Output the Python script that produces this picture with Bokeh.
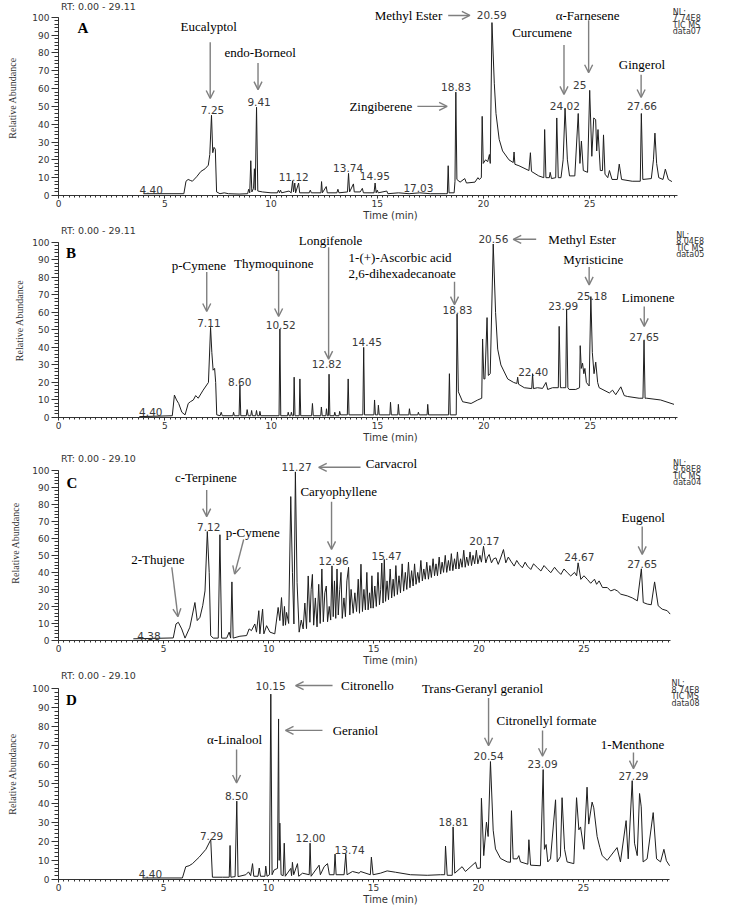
from bokeh.plotting import figure
from bokeh.models import ColumnDataSource, FixedTicker, Arrow, OpenHead
from bokeh.layouts import column
from bokeh.embed import file_html
from bokeh.resources import INLINE
from bokeh.core.properties import value

# ---------------- Panel A (data07) ----------------
A_T = [4.0, 5.9, 6.0, 6.1, 6.2, 6.3, 6.5, 6.7, 6.9, 7.05, 7.12, 7.2, 7.26, 7.32, 7.38, 7.44, 7.6, 7.8, 8.0, 8.5,
       8.9, 8.95, 9.0, 9.05, 9.1, 9.18, 9.22, 9.26, 9.32, 9.38, 9.6, 10.0, 10.3, 10.35, 10.4, 10.45, 10.5, 10.85,
       10.95, 11.02, 11.06, 11.12, 11.16, 11.3, 11.35, 11.8, 11.85, 11.9, 12.35, 12.38, 12.42, 12.6, 12.65, 13.1,
       13.15, 13.2, 13.6, 13.65, 13.7, 13.88, 13.92, 14.2, 14.3, 14.35, 14.85, 14.9, 14.95, 15.0, 15.05, 15.45,
       15.5, 16.0, 16.5, 17.0, 17.5, 18.2, 18.3, 18.34, 18.38, 18.62, 18.66, 18.7, 18.75, 18.9, 19.12, 19.2,
       19.6, 19.74, 19.8, 19.9, 19.94, 19.99, 20.1, 20.2, 20.28, 20.32, 20.40, 20.51, 20.59, 20.74, 20.9, 21.2,
       21.4, 21.44, 21.48, 21.67, 22.14, 22.21, 22.26, 22.6, 22.84, 22.88, 22.94, 23.1, 23.14, 23.2, 23.4, 23.45,
       23.52, 23.65, 23.75, 23.84, 23.95, 24.05, 24.3, 24.46, 24.54, 24.61, 24.7, 24.9, 25.0, 25.1, 25.19, 25.28,
       25.33, 25.39, 25.5, 25.6, 25.65, 25.72, 25.85, 25.93, 26.05, 26.3, 26.39, 26.5, 27.0, 27.38, 27.43, 27.5,
       27.9, 28.0, 28.07, 28.15, 28.25, 28.45, 28.56, 28.7, 28.87]
A_AB = [1, 1, 8, 9, 8.5, 8, 10.5, 13.5, 15, 17, 23, 45, 24, 27, 26, 2, 1, 1.5, 1, 0.8,
        1, 3.5, 1.5, 19.5, 2, 4, 15, 3, 49.5, 2.5, 2, 1.5, 1.5, 3, 1.5, 3, 1.5, 2.5,
        1.5, 8.3, 2, 7, 1.5, 7, 1.5, 1.5, 3, 1.5, 1.5, 7.8, 1.5, 5, 1.5, 1.5,
        3.5, 1.5, 2, 12.4, 2, 6.5, 2, 2, 4, 1.5, 1.5, 7, 1.5, 3, 1.5, 2.5,
        1, 1.5, 1, 1.5, 1, 1, 1, 16.7, 1.5, 1.5, 8, 58, 9, 7.5, 9.5, 7,
        7.5, 10, 9, 10, 44.4, 18, 20, 19, 23, 18, 97, 63, 46, 31.5, 25, 20,
        18.5, 24.4, 17.5, 16.7, 14, 24, 13.5, 11, 10, 37, 10, 10, 13, 9.5, 10, 43.5,
        10, 10, 20, 49, 20, 11, 11, 46, 18, 30.5, 14, 13, 59, 22, 43.5, 42.6,
        25, 37, 14, 14, 34, 12, 10, 14, 9, 9, 17.6, 9, 8, 8, 46, 9,
        9.5, 20, 35, 18, 10, 9, 14.8, 9, 7.8]
A_NAMES = ["Eucalyptol", "endo-Borneol", "Zingiberene", "Methyl Ester", "Curcumene", "\u03b1-Farnesene", "Gingerol"]
A_NAME_T = [7.07, 9.49, 15.17, 16.47, 22.76, 24.9, 27.46]
A_NAME_AB = [95, 80, 50, 101, 91.7, 101, 73.3]
A_RT = ["7.25", "9.41", "4.40", "11.12", "13.74", "14.95", "17.03", "18.83", "20.59", "25", "24.02", "27.66"]
A_RT_T = [7.25, 9.44, 4.36, 11.07, 13.63, 14.89, 16.94, 18.71, 20.39, 24.53, 23.83, 27.46]
A_RT_AB = [47.8, 52.2, 3.3, 10.6, 15.6, 11.1, 4.4, 61.1, 101, 62.2, 50, 50]
A_ARR = dict(x0=[7.14, 9.39, 16.89, 18.34, 23.79, 24.95, 27.42], y0=[86, 74.4, 50, 101, 84.4, 98.3, 67.8],
             x1=[7.14, 9.39, 18.29, 19.36, 23.79, 24.95, 27.42], y1=[54.4, 59.4, 50, 101, 56.7, 68.9, 55])
A_NL = ["NL:", "7.74E8", "TIC  MS", "data07"]

# ---------------- Panel B (data05) ----------------
B_T = [3.8, 5.35, 5.45, 5.55, 5.65, 5.8, 5.95, 6.1, 6.2, 6.34, 6.45, 6.57, 6.8, 7.05, 7.15, 7.21, 7.27, 7.34, 7.39,
       7.44, 7.6, 7.65, 7.7, 8.2, 8.23, 8.27, 8.49, 8.53, 8.57, 8.83, 8.87, 8.92, 9.04, 9.08, 9.12, 9.27, 9.31,
       9.35, 9.44, 9.47, 9.51, 10.37, 10.41, 10.45, 10.77, 10.8, 10.84, 10.92, 10.95, 10.99, 11.05, 11.08, 11.12,
       11.32, 11.35, 11.39, 11.9, 11.94, 11.98, 12.33, 12.36, 12.4, 12.57, 12.6, 12.64, 12.69, 12.72, 12.76,
       12.96, 12.99, 13.03, 13.19, 13.22, 13.26, 13.58, 13.62, 13.66, 14.31, 14.35, 14.39, 14.83, 14.86, 14.9,
       15.01, 15.04, 15.08, 15.58, 15.61, 15.65, 15.95, 15.98, 16.02, 16.47, 16.5, 16.54, 16.89, 16.92, 16.96,
       17.33, 17.36, 17.4, 18.34, 18.38, 18.42, 18.7, 18.74, 18.8, 19.0, 19.4, 19.71, 19.9, 19.94, 20.0, 20.05,
       20.15, 20.21, 20.3, 20.44, 20.55, 20.65, 20.8, 21.12, 21.4, 21.55, 21.59, 21.63, 21.9, 22.25, 22.29,
       22.33, 22.52, 22.76, 22.92, 23.0, 23.23, 23.5, 23.54, 23.6, 23.7, 23.85, 23.89, 23.95, 24.01, 24.32,
       24.5, 24.53, 24.58, 24.64, 24.7, 24.75, 24.82, 24.95, 25.03, 25.1, 25.18, 25.26, 25.35, 25.42, 25.9,
       26.05, 26.2, 26.44, 26.6, 26.75, 27.3, 27.48, 27.53, 27.58, 27.66, 28.31, 28.94]
B_AB = [0.5, 1, 12.8, 10, 8, 3, 1.5, 8, 9, 10, 12.5, 11, 15.6, 20, 51.4, 37, 27, 28, 20,
        1.5, 1, 3, 1, 1, 3, 1, 1, 18.5, 1, 1, 4.5, 1, 1, 4, 1, 1, 4,
        1, 1, 3.5, 1, 1, 50.5, 1, 1, 3, 1, 1, 3, 1, 1, 23, 1,
        1, 22, 1, 1, 8, 1, 1, 6, 1, 1, 5, 1, 1, 24.7, 1,
        1, 3, 1, 1, 3.5, 1.5, 1.5, 22, 1.5, 1.5, 40, 1.5, 1.5, 10, 1.5,
        1.5, 7, 1.5, 1.5, 8.7, 1.5, 1.5, 7.5, 1.5, 1.5, 5, 1.5, 1.5, 3, 1.5,
        1.5, 7.5, 1.5, 1.5, 25, 1.5, 1.5, 59, 14.7, 9, 8, 10, 11, 44.8, 22, 22,
        57, 24, 25, 99, 60, 39, 30, 22, 20, 19.4, 23, 19, 17, 16.5, 25,
        16.5, 17, 16.6, 20, 16, 17, 17, 52, 17, 17, 17, 62, 17, 16, 16,
        17, 41, 28, 31, 25, 28, 20, 18, 69, 37, 25, 31.6, 20, 17, 14,
        15.6, 13, 17.5, 12.5, 12, 11, 11, 44, 11, 11, 10, 7.5]
B_NAMES = ["p-Cymene", "Thymoquinone", "Longifenole", "Methyl Ester", "Myristicine", "Limonene"]
B_NAME_T = [6.6, 10.12, 12.79, 24.62, 25.14, 27.72]
B_NAME_AB = [87, 88.1, 101.1, 101.7, 90.4, 68.4]
B_LNAMES = ["1-(+)-Ascorbic acid", "2,6-dihexadecanoate"]
B_LNAME_T = [13.64, 13.64]
B_LNAME_AB = [91.5, 81.9]
B_RT = ["7.11", "10.52", "8.60", "4.40", "12.82", "14.45", "18.83", "20.56", "25.18", "23.99", "27.65", "22.40"]
B_RT_T = [7.07, 10.45, 8.52, 4.34, 12.61, 14.5, 18.76, 20.45, 25.09, 23.73, 27.54, 22.32]
B_RT_AB = [53.7, 52.5, 20.3, 3.4, 30.5, 42.9, 61.6, 101.7, 69.5, 63.8, 45.8, 26]
B_ARR = dict(x0=[6.97, 10.35, 12.7, 18.62, 22.46, 24.95, 27.54], y0=[83, 84.2, 97.2, 77.4, 101.7, 85.9, 63.3],
             x1=[6.97, 10.35, 12.7, 18.62, 21.38, 24.95, 27.54], y1=[60.5, 57.6, 33.3, 64.4, 101.7, 75.7, 52])
B_NL = ["NL:", "8.04E8", "TIC  MS", "data05"]

# ---------------- Panel C (data04) ----------------
C_T = [3.56, 5.46, 5.59, 5.7, 5.86, 6.02, 6.25, 6.49, 6.6, 6.73, 6.86, 6.97, 7.08, 7.17, 7.24, 7.36, 7.6, 7.68,
       7.76, 8.0, 8.12, 8.19, 8.25, 8.31, 8.63, 8.95, 9.07, 9.18, 9.34, 9.42, 9.53, 9.58, 9.71, 9.77, 9.9, 10.06,
       10.29, 10.45, 10.53, 10.61, 10.69, 10.75, 10.8, 10.85, 10.95, 11.05, 11.13, 11.2, 11.27, 11.35, 11.45,
       11.55, 11.64, 11.72, 11.8, 11.88, 11.96, 12.02, 12.08, 12.14, 12.22, 12.3, 12.38, 12.45, 12.53, 12.6,
       12.67, 12.74, 12.8, 12.88, 12.95, 13.01, 13.07, 13.13, 13.19, 13.25, 13.31, 13.38, 13.44, 13.5, 13.58,
       13.65, 13.72, 13.8, 13.86, 13.92, 14.02, 14.1, 14.18, 14.26, 14.32, 14.39, 14.46, 14.53, 14.6, 14.67,
       14.73, 14.8, 14.86, 14.91, 14.97, 15.05, 15.12, 15.2, 15.27, 15.33, 15.38, 15.44, 15.5, 15.56, 15.63,
       15.7, 15.78, 15.85, 15.92, 15.98, 16.05, 16.12, 16.2, 16.27, 16.35, 16.42, 16.5, 16.57, 16.65, 16.72,
       16.8, 16.87, 16.94, 17.01, 17.09, 17.16, 17.24, 17.31, 17.38, 17.45, 17.52, 17.6, 17.67, 17.74, 17.82,
       17.89, 17.96, 18.03, 18.11, 18.18, 18.25, 18.32, 18.4, 18.47, 18.55, 18.62, 18.69, 18.76, 18.84, 18.91,
       18.98, 19.05, 19.13, 19.2, 19.28, 19.35, 19.42, 19.5, 19.58, 19.65, 19.72, 19.8, 19.88, 19.95, 20.05,
       20.12, 20.22, 20.33, 20.41, 20.49, 20.6, 20.7, 20.81, 20.92, 21.05, 21.17, 21.28, 21.4, 21.52, 21.68,
       21.8, 21.92, 22.07, 22.2, 22.31, 22.47, 22.6, 22.79, 22.95, 23.1, 23.27, 23.42, 23.6, 23.74, 23.9, 24.05,
       24.21, 24.37, 24.55, 24.65, 24.72, 24.85, 25.0, 25.16, 25.32, 25.5, 25.6, 25.72, 25.88, 26.11, 26.27,
       26.45, 26.59, 26.75, 27.06, 27.3, 27.54, 27.73, 27.82, 28.01, 28.2, 28.36, 28.53, 28.72, 28.96, 29.1]
C_AB = [1, 1.5, 9.7, 10.7, 6.8, 1.4, 7.8, 22.3, 11.7, 13.6, 20.4, 29.1, 64, 39.8, 2.9, 1.4, 1.4, 62.1,
        1.4, 1.4, 4.9, 1.4, 34.4, 1.4, 2.5, 2.9, 6.8, 5.8, 9.7, 4.9, 17.5, 3.9, 18.4, 3.9, 8.7, 4.9,
        3.9, 19.4, 11.7, 25.2, 8.7, 20, 9, 16.5, 10, 84.5, 39.8, 9.7, 99, 34, 4.9,
        12, 6.8, 22, 7, 37.9, 10.7, 30, 38.8, 9, 25, 8, 33, 10, 42, 11,
        28, 32, 11, 20, 12, 43.8, 14, 35, 13, 42, 15, 30, 40, 13, 25,
        14, 35, 43, 15, 30, 16, 28, 17, 36, 16, 44.8, 17, 30, 18, 40,
        18, 28, 19, 38, 19, 32, 20, 40, 21, 30, 45.5, 22, 47.6, 23, 35,
        24, 42, 25, 36, 26, 44, 27, 38, 28, 45, 29, 40, 30, 46, 31,
        41, 32, 45, 33, 40, 34, 47, 35, 42, 36, 46, 36, 44, 37, 48,
        38, 45, 38, 49, 39, 46, 40, 50, 40, 47, 41, 51, 41, 48, 42,
        52, 42, 48, 43, 53, 43, 49, 44, 52, 44, 50, 45, 53, 45, 50,
        46, 55.3, 45.6, 49, 50.5, 45.6, 48, 48.5, 44.7, 49, 53.4, 45.6, 49, 46.6, 43.7,
        47, 44.7, 42.7, 46, 43.7, 41.7, 45, 42.7, 40.8, 44, 41.7, 39.8, 43, 40.8, 38.8, 42,
        39.8, 37.9, 40, 38, 45.6, 35.9, 38, 35.9, 33.6, 36, 33, 35, 31.1, 31.1, 29.1,
        30, 29.1, 27.2, 26.2, 25, 23.3, 42.1, 22.3, 21.4, 21, 34.4, 20.4, 18.4, 17.5, 15.5]
C_NAMES = ["c-Terpinene", "p-Cymene", "2-Thujene", "Carvacrol", "Caryophyllene", "Eugenol"]
C_NAME_T = [7.01, 9.24, 4.73, 15.84, 13.33, 27.82]
C_NAME_AB = [95.9, 63.4, 47.7, 104, 87.2, 72.1]
C_RT = ["7.12", "4.38", "11.27", "12.96", "15.47", "20.17", "24.67", "27.65"]
C_RT_T = [7.15, 4.3, 11.33, 13.09, 15.61, 20.26, 24.78, 27.77]
C_RT_AB = [66.9, 2.9, 101.7, 46.5, 49.4, 58.7, 48.8, 44.8]
C_ARR = dict(x0=[7.05, 8.81, 5.39, 14.37, 12.99, 27.77], y0=[88.4, 59.3, 43, 101.7, 81.4, 66.9],
             x1=[7.05, 8.38, 5.68, 12.38, 12.99, 27.77], y1=[72.7, 39, 14, 101.7, 53.5, 50.6])
C_NL = ["NL:", "9.68E8", "TIC  MS", "data04"]

# ---------------- Panel D (data08) ----------------
D_T = [4.0, 5.9, 6.06, 6.22, 6.38, 6.7, 7.02, 7.25, 7.33, 7.81, 8.13, 8.17, 8.21, 8.41, 8.49, 8.55, 8.92, 9.05,
       9.15, 9.24, 9.3, 9.5, 9.56, 9.62, 9.83, 9.87, 9.93, 10.05, 10.11, 10.17, 10.27, 10.43, 10.48, 10.51,
       10.54, 10.6, 10.7, 10.75, 10.8, 11.06, 11.1, 11.14, 11.2, 11.38, 11.44, 11.62, 11.94, 11.98, 12.03,
       12.41, 12.47, 12.65, 12.81, 12.9, 13.12, 13.17, 13.22, 13.6, 13.68, 13.74, 14.0, 14.32, 14.38, 14.85,
       14.9, 14.98, 15.33, 15.65, 16.05, 16.76, 17.56, 18.19, 18.39, 18.43, 18.51, 18.75, 18.79, 18.87, 19.22,
       19.38, 19.86, 19.94, 20.09, 20.14, 20.25, 20.38, 20.46, 20.57, 20.7, 20.81, 21.05, 21.37, 21.52, 21.57,
       21.65, 21.84, 21.92, 22.0, 22.35, 22.4, 22.48, 22.95, 23.08, 23.14, 23.22, 23.3, 23.43, 23.67, 23.75,
       23.9, 23.98, 24.1, 24.22, 24.54, 24.67, 24.78, 24.86, 25.02, 25.17, 25.25, 25.41, 25.49, 25.65, 25.78,
       25.89, 26.13, 26.6, 26.76, 27.03, 27.13, 27.32, 27.43, 27.56, 27.67, 27.75, 27.84, 28.03, 28.32, 28.48,
       28.67, 28.83, 28.95, 29.1]
D_AB = [0.8, 0.8, 6.7, 7.2, 8.3, 11.7, 15.8, 20.8, 1.2, 1.2, 1.2, 17.8, 1.2, 1.5, 41, 1.5, 2.5, 4,
        2, 8.3, 1.7, 1.7, 6, 1.7, 1.7, 7, 1.7, 2.5, 97, 2.5, 5, 5.8, 84, 10,
        29.5, 2.5, 2, 19, 1.7, 5.8, 2, 9, 2.5, 8.3, 1.7, 3.3, 2.5, 19, 1.7,
        7.5, 2.5, 6.7, 8.3, 2.5, 2.5, 13.3, 2.5, 2.5, 13.3, 2.5, 4.2, 3.3, 4.2, 2.5,
        11.7, 2.5, 3.3, 4.5, 3.8, 2.5, 2.2, 2.5, 2.5, 17.5, 2.2, 2.2, 27.5, 3.3, 6.7,
        4.2, 9, 5.8, 6, 42.5, 12.5, 30, 22.5, 61.7, 25.8, 16, 11, 9.2, 9, 36,
        10.8, 10.8, 12.5, 9.2, 8, 20.8, 7.5, 7.2, 57.5, 15.8, 18.3, 9.2, 10.8, 41.7, 9.2,
        12, 42.8, 15.8, 9.2, 8.3, 42.8, 26, 27.5, 15.8, 48.3, 29, 40.5, 37.5, 22.5, 16.7,
        12.5, 10, 16.7, 9.2, 30.8, 10.8, 51.7, 19, 12.5, 45, 38, 9.2, 10.8, 35, 10.8,
        9.2, 15.8, 9.8, 7.2]
D_NAMES = ["\u03b1-Linalool", "Citronello", "Geraniol", "Trans-Geranyl geraniol", "Citronellyl formate", "1-Menthone"]
D_NAME_T = [8.38, 14.71, 14.14, 20.19, 23.24, 27.33]
D_NAME_AB = [73, 101.5, 78, 100, 83, 70.5]
D_RT = ["8.50", "7.29", "4.40", "10.15", "12.00", "13.74", "18.81", "20.54", "23.09", "27.29"]
D_RT_T = [8.48, 7.29, 4.38, 10.1, 12.0, 13.86, 18.81, 20.48, 23.05, 27.38]
D_RT_AB = [43.5, 23, 3, 101.5, 21.5, 15.5, 30, 64.5, 60.5, 54]
D_ARR = dict(x0=[8.48, 13.05, 12.57, 20.48, 23.05, 27.38], y0=[68, 101.5, 78, 95, 78, 66.5],
             x1=[8.48, 11.29, 10.81, 20.48, 23.05, 27.38], y1=[50.5, 101.5, 78, 70, 64.5, 58])
D_NL = ["NL:", "8.74E8", "TIC  MS", "data08"]

Y_TICKS = [0, 10, 20, 30, 40, 50, 60, 70, 80, 90, 100]
X_TICKS = [0, 5, 10, 15, 20, 25]

PANELS = [
    dict(letter="A", rt="RT: 0.00 - 29.11", rt_end=29.11, t=A_T, ab=A_AB, names=A_NAMES, nt=A_NAME_T, nab=A_NAME_AB,
         lnames=[], lt=[], lab=[], rts=A_RT, rt_t=A_RT_T, rt_ab=A_RT_AB, arr=A_ARR, nl=A_NL,
         h=223, left=51, xend=31.25, yend=109.4, ylab_st=11, let_xy=(1.15, 93.9), nl_x=28.91,
         nl_y=[102.8, 99.2, 95.6, 92.0], rt_xy=(0.12, 105.8)),
    dict(letter="B", rt="RT: 0.00 - 29.11", rt_end=29.11, t=B_T, ab=B_AB, names=B_NAMES, nt=B_NAME_T, nab=B_NAME_AB,
         lnames=B_LNAMES, lt=B_LNAME_T, lab=B_LNAME_AB, rts=B_RT, rt_t=B_RT_T, rt_ab=B_RT_AB, arr=B_ARR, nl=B_NL,
         h=222, left=57, xend=31.22, yend=110.7, ylab_st=4, let_xy=(0.59, 93.8), nl_x=29.04,
         nl_y=[104, 100.3, 96.6, 92.9], rt_xy=(0.12, 106.8)),
    dict(letter="C", rt="RT: 0.00 - 29.10", rt_end=29.10, t=C_T, ab=C_AB, names=C_NAMES, nt=C_NAME_T, nab=C_NAME_AB,
         lnames=[], lt=[], lab=[], rts=C_RT, rt_t=C_RT_T, rt_ab=C_RT_AB, arr=C_ARR, nl=C_NL,
         h=223, left=57, xend=31.59, yend=114.5, ylab_st=8, let_xy=(0.64, 92.4), nl_x=29.24,
         nl_y=[104, 100.2, 96.4, 92.6], rt_xy=(0.12, 107)),
    dict(letter="D", rt="RT: 0.00 - 29.10", rt_end=29.10, t=D_T, ab=D_AB, names=D_NAMES, nt=D_NAME_T, nab=D_NAME_AB,
         lnames=[], lt=[], lab=[], rts=D_RT, rt_t=D_RT_T, rt_ab=D_RT_AB, arr=D_ARR, nl=D_NL,
         h=239, left=58, xend=31.62, yend=110.4, ylab_st=11, let_xy=(0.62, 94), nl_x=29.19,
         nl_y=[102.5, 99.1, 95.7, 92.3], rt_xy=(0.12, 106.5)),
]

SERIF = "Liberation Serif"
SANS = "DejaVu Sans"
GRAY = "#7f7f7f"


def build(c):
    p = figure(width=722, height=c["h"], x_range=(0, c["xend"]), y_range=(0, c["yend"]),
               output_backend="svg", toolbar_location=None,
               min_border_left=c["left"], min_border_right=0, min_border_top=0, min_border_bottom=26)
    p.xgrid.visible = False
    p.ygrid.visible = False
    p.outline_line_color = None
    p.background_fill_color = "white"
    p.border_fill_color = "white"

    # chromatogram trace
    p.line(c["t"], c["ab"], line_color="#1e1e1e", line_width=1)

    # x axis
    xa = p.xaxis[0]
    xa.ticker = FixedTicker(ticks=X_TICKS, minor_ticks=[i * 0.25 for i in range(0, 117)])
    xa.bounds = (0, c["rt_end"])
    xa.axis_line_color = "#333333"
    xa.major_tick_line_color = "#333333"
    xa.minor_tick_line_color = "#333333"
    xa.major_tick_out = 3
    xa.major_tick_in = 0
    xa.minor_tick_out = 2
    xa.minor_tick_in = 0
    xa.major_label_standoff = 1
    xa.major_label_text_font = SANS
    xa.major_label_text_font_size = "9px"
    xa.major_label_text_color = "#333333"
    xa.axis_label = "Time (min)"
    xa.axis_label_text_font = SANS
    xa.axis_label_text_font_size = "10px"
    xa.axis_label_text_font_style = "normal"
    xa.axis_label_text_color = "#333333"
    xa.axis_label_standoff = 0

    # y axis
    ya = p.yaxis[0]
    ya.ticker = FixedTicker(ticks=Y_TICKS, minor_ticks=list(range(0, 101, 2)))
    ya.bounds = (0, 100)
    ya.axis_line_color = "#333333"
    ya.major_tick_line_color = "#333333"
    ya.minor_tick_line_color = "#333333"
    ya.major_tick_out = 7
    ya.major_tick_in = 0
    ya.minor_tick_out = 4
    ya.minor_tick_in = 0
    ya.major_label_standoff = 2
    ya.major_label_text_font = SANS
    ya.major_label_text_font_size = "9px"
    ya.major_label_text_color = "#333333"
    ya.axis_label = "Relative Abundance"
    ya.axis_label_text_font = "Liberation Sans Narrow"
    ya.axis_label_text_font_size = "10px"
    ya.axis_label_text_font_style = "normal"
    ya.axis_label_text_color = "#333333"
    ya.axis_label_standoff = c["ylab_st"]

    # arrows
    arr_src = ColumnDataSource(c["arr"])
    p.add_layout(Arrow(end=OpenHead(size=8, line_color=GRAY, line_width=1.4),
                       x_start="x0", y_start="y0", x_end="x1", y_end="y1",
                       line_color=GRAY, line_width=1.4, source=arr_src))

    # compound names
    p.text(x=c["nt"], y=c["nab"], text=c["names"], text_font=value(SERIF), text_font_size="13px",
           text_align="center", text_baseline="middle", text_color="black")
    if c["lnames"]:
        p.text(x=c["lt"], y=c["lab"], text=c["lnames"], text_font=value(SERIF), text_font_size="13px",
               text_align="left", text_baseline="middle", text_color="black")

    # retention-time labels
    p.text(x=c["rt_t"], y=c["rt_ab"], text=c["rts"], text_font=value(SANS), text_font_size="10.5px",
           text_align="center", text_baseline="middle", text_color="#3a3a3a")

    # panel letter
    p.text(x=[c["let_xy"][0]], y=[c["let_xy"][1]], text=[c["letter"]], text_font=value(SERIF),
           text_font_size="15px", text_font_style="bold", text_align="center", text_baseline="middle",
           text_color="black")

    # NL block
    p.text(x=[c["nl_x"]] * 4, y=c["nl_y"], text=c["nl"], text_font=value(SANS), text_font_size="8px",
           text_align="left", text_baseline="middle", text_color="#333333")

    # RT header (inside the frame, just right of the y axis)
    rx, ry = c["rt_xy"]
    p.text(x=[rx], y=[ry], text=[c["rt"]], text_font=value(SANS), text_font_size="9.5px",
           text_align="left", text_baseline="middle", text_color="#333333")
    return p


figs = [build(c) for c in PANELS]
layout = column(*figs, spacing=0)
open("out.html", "w").write(file_html(layout, INLINE))
